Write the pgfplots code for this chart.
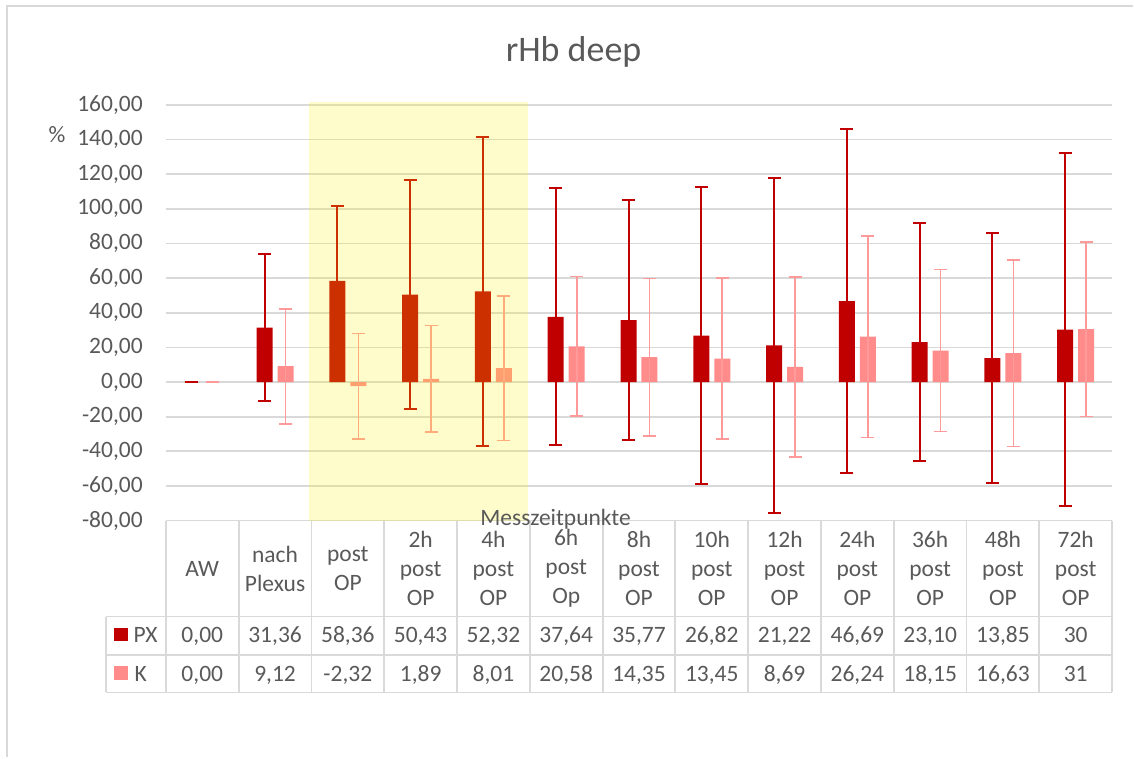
\documentclass[border=0pt]{standalone}
\usepackage{fontspec}
\setmainfont{Carlito}
\usepackage{pgfplots}
\usepackage{pgfplotstable}
\pgfplotsset{compat=1.18}

\definecolor{px}{HTML}{C00000}
\definecolor{kk}{HTML}{FF8B8B}
\definecolor{kerr}{HTML}{FF9A9A}
\definecolor{grd}{HTML}{D9D9D9}
\definecolor{txt}{HTML}{595959}
\newcommand{\fs}{\fontsize{23.5}{29}\selectfont}

% mean and SD per time point
\pgfplotstableread{
x  px     pxe    k      ke
0  0      0      0      0
1  31.36  42.6   9.12   33.2
2  58.36  43.2   -2.32  30.4
3  50.43  66.0   1.89   30.7
4  52.32  89.4   8.01   41.8
5  37.64  74.2   20.58  40.3
6  35.77  69.4   14.35  45.5
7  26.82  85.9   13.45  46.5
8  21.22  96.7   8.69   52.0
9  46.69  99.2   26.24  58.2
10 23.10  68.6   18.15  46.8
11 13.85  72.3   16.63  53.8
12 30.2   102.0  30.6   50.4
}\data

\begin{document}
\begin{tikzpicture}[x=1pt,y=1pt]
\path (0,0) rectangle (1134,-758);
\draw[grd, line width=1.8pt] (7,-758) -- (7,-6) -- (1134,-6);

\begin{axis}[
    at={(166pt,-521pt)}, anchor=south west,
    scale only axis, width=947pt, height=416pt,
    xmin=-0.5, xmax=12.5, ymin=-80, ymax=160,
    ytick={-80,-60,...,160}, xtick=\empty,
    ymajorgrids, grid style={grd, line width=1.7pt},
    axis line style={draw=none}, major tick length=0pt,
    yticklabel style={font=\fs, text=txt, inner sep=0pt, xshift=-23pt},
    ybar=5pt, bar width=16pt,
    /pgf/number format/.cd, fixed, fixed zerofill, precision=2,
    use comma, 1000 sep={}, assume math mode=true
  ]
  \addplot[fill=px, draw=none,
    error bars/.cd, y dir=both, y explicit,
    error bar style={color=px, line width=2pt},
    error mark options={color=px, line width=2pt, mark size=6.5pt, rotate=90}]
    table[x=x, y=px, y error=pxe] {\data};
  \addplot[fill=kk, draw=none,
    error bars/.cd, y dir=both, y explicit,
    error bar style={color=kerr, line width=1.6pt},
    error mark options={color=kerr, line width=1.6pt, mark size=6.5pt, rotate=90}]
    table[x=x, y=k, y error=ke] {\data};
\end{axis}

% highlighted period
\fill[yellow, opacity=0.2] (309.5,-102) rectangle (528,-521);

% title and axis texts
\node[font=\fontsize{36}{40}\selectfont, text=txt, anchor=base] at (574,-61.7) {rHb deep};
\node[font=\fs, text=txt] at (57,-135) {\%};

% data table
\begin{scope}[grd, line width=1.8pt]
  \foreach \k in {0,...,13}
    \draw ({166+72.846*\k},-521) -- ({166+72.846*\k},-693);
  \draw (106,-617) -- (1113,-617);
  \draw (106,-655.5) -- (1113,-655.5);
  \draw (106,-693) -- (1113,-693);
  \draw (106,-617) -- (106,-693);
\end{scope}

\foreach \lab [count=\i from 0] in {AW, {nach\\Plexus}, {post\\OP}, {2h\\post\\OP},
    {4h\\post\\OP}, {6h\\post\\Op}, {8h\\post\\OP}, {10h\\post\\OP}, {12h\\post\\OP},
    {24h\\post\\OP}, {36h\\post\\OP}, {48h\\post\\OP}, {72h\\post\\OP}}
  \node[font=\fs, text=txt, align=center] at ({166+72.846*(\i+0.5)},-569) {\lab};

\foreach \v [count=\i from 0] in {{0,00},{31,36},{58,36},{50,43},{52,32},{37,64},
    {35,77},{26,82},{21,22},{46,69},{23,10},{13,85},{30}}
  \node[font=\fs, text=txt, anchor=base] at ({166+72.846*(\i+0.5)},-643.3) {\v};
\foreach \v [count=\i from 0] in {{0,00},{9,12},{-2,32},{1,89},{8,01},{20,58},
    {14,35},{13,45},{8,69},{26,24},{18,15},{16,63},{31}}
  \node[font=\fs, text=txt, anchor=base] at ({166+72.846*(\i+0.5)},-681.7) {\v};

\fill[px] (114,-628) rectangle (128,-642);
\node[font=\fs, text=txt, anchor=base west, inner sep=0pt] at (133.5,-643.3) {PX};
\fill[kk] (114,-667) rectangle (128,-681);
\node[font=\fs, text=txt, anchor=base west, inner sep=0pt] at (134.5,-681.7) {K};

\node[font=\fs, text=txt, anchor=base] at (556,-526) {Messzeitpunkte};
\end{tikzpicture}
\end{document}
